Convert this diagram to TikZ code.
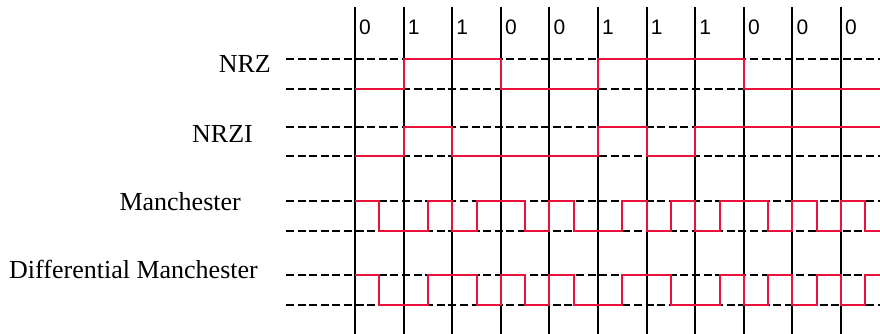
\documentclass[tikz,border=0pt]{standalone}
\usepackage{fontspec}
\setmainfont{Liberation Serif}
\newfontfamily\bitfont{Liberation Sans}
\usepackage{xcolor}
\usepackage{tikz}
\usetikzlibrary{positioning}
\definecolor{signal}{RGB}{232,18,58}

\begin{document}
\begin{tikzpicture}[
  x=1pt, y=-1pt,
  codename/.style={font=\fontsize{26}{30}\selectfont, inner sep=0pt, anchor=base east},
  bitval/.style={font=\bitfont\fontsize{21}{25}\selectfont, inner sep=0pt, anchor=base west},
  level/.style={draw=black, line width=2pt, dash pattern=on 8pt off 3.6pt},
  clock/.style={draw=black, line width=2pt},
  wave/.style={draw=signal, line width=2pt, line join=miter}
]
  \useasboundingbox (0,0) rectangle (880,334);

  % ── bit boundaries and values ──
  \foreach \b [count=\i from 0] in {0,1,1,0,0,1,1,1,0,0,0} {
    \coordinate (t\i) at ({355+48.6*\i},7);
    \draw[clock] (t\i) -- ++(0,327);
    \node[bitval] (b\i) at ({359+48.6*\i},35) {\b};
  }

  % ── labels ──
  \node[codename] (lnrz)  at (271,73)  {NRZ};
  \node[codename] (lnrzi) at (253,142.5) {NRZI};
  \node[codename] (lman)  at (241,210) {Manchester};
  \node[codename] (ldman) at (258,278) {Differential Manchester};

  % ── high / low levels ──
  \foreach \y in {59,89,126.7,156,200.7,230.7,274.7,304.7}
    \draw[level] (286,\y) -- (880,\y);

  % ── waveforms (x in half bits) ──
  \begin{scope}[xshift=355pt, x=24.3pt]
    % NRZ
    \draw[wave] (0,89) -- (2,89) -- (2,59) -- (6,59) -- (6,89) -- (10,89)
      -- (10,59) -- (16,59) -- (16,89) -- (21.6,89);
    % NRZI
    \draw[wave] (0,156) -- (2,156) -- (2,126.7) -- (4,126.7) -- (4,156)
      -- (10,156) -- (10,126.7) -- (12,126.7) -- (12,156) -- (14,156)
      -- (14,126.7) -- (21.6,126.7);
    % Manchester
    \draw[wave] (0,200.7) -- (1,200.7) -- (1,230.7) -- (3,230.7) -- (3,200.7)
      -- (4,200.7) -- (4,230.7) -- (5,230.7) -- (5,200.7) -- (7,200.7)
      -- (7,230.7) -- (8,230.7) -- (8,200.7) -- (9,200.7) -- (9,230.7)
      -- (11,230.7) -- (11,200.7) -- (12,200.7) -- (12,230.7) -- (13,230.7)
      -- (13,200.7) -- (14,200.7) -- (14,230.7) -- (15,230.7) -- (15,200.7)
      -- (17,200.7) -- (17,230.7) -- (18,230.7) -- (18,200.7) -- (19,200.7)
      -- (19,230.7) -- (20,230.7) -- (20,200.7) -- (21,200.7) -- (21,230.7)
      -- (21.6,230.7);
    % Differential Manchester
    \draw[wave] (0,274.7) -- (1,274.7) -- (1,304.7) -- (3,304.7) -- (3,274.7)
      -- (5,274.7) -- (5,304.7) -- (6,304.7) -- (6,274.7) -- (7,274.7)
      -- (7,304.7) -- (8,304.7) -- (8,274.7) -- (9,274.7) -- (9,304.7)
      -- (11,304.7) -- (11,274.7) -- (13,274.7) -- (13,304.7) -- (15,304.7)
      -- (15,274.7) -- (16,274.7) -- (16,304.7) -- (17,304.7) -- (17,274.7)
      -- (18,274.7) -- (18,304.7) -- (19,304.7) -- (19,274.7) -- (20,274.7)
      -- (20,304.7) -- (21,304.7) -- (21,274.7) -- (21.6,274.7);
  \end{scope}
\end{tikzpicture}
\end{document}
